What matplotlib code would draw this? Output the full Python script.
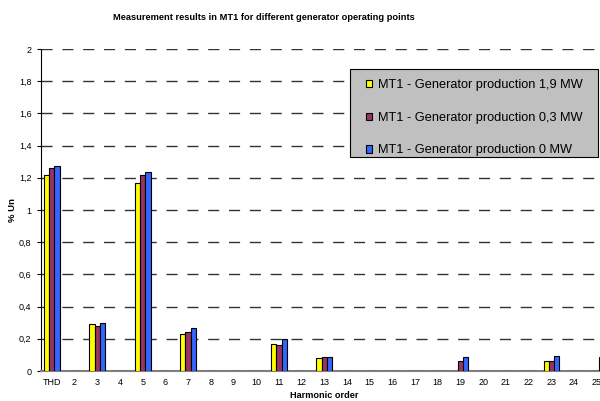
import numpy as np
import matplotlib.pyplot as plt
from matplotlib.patches import Rectangle

plt.rcParams['font.family'] = ['Liberation Sans', 'DejaVu Sans']

harmonics = ['THD'] + [str(h) for h in range(2, 26)]
labels = ['MT1 - Generator production 1,9 MW',
          'MT1 - Generator production 0,3 MW',
          'MT1 - Generator production 0 MW']

# % Un per harmonic (THD, 2..25)
p_1_9 = [1.22, 0, 0.29, 0, 1.17, 0, 0.23, 0, 0, 0, 0.17, 0, 0.08, 0, 0, 0, 0, 0, 0, 0, 0, 0, 0.06, 0, 0]
p_0_3 = [1.26, 0, 0.28, 0, 1.22, 0, 0.24, 0, 0, 0, 0.16, 0, 0.085, 0, 0, 0, 0, 0, 0.06, 0, 0, 0, 0.06, 0, 0]
p_0 = [1.275, 0, 0.30, 0, 1.235, 0, 0.27, 0, 0, 0, 0.20, 0, 0.085, 0, 0, 0, 0, 0, 0.085, 0, 0, 0, 0.095, 0, 0.085]
colors = ['#FFFF00', '#993366', '#3366FF']

fig = plt.figure(figsize=(6, 4.01), dpi=100)
ax = fig.add_axes([0.0675, 0.0748, 0.946, 0.803])

x = np.arange(len(harmonics))
w = 0.23
for i, (vals, c, lab) in enumerate(zip([p_1_9, p_0_3, p_0], colors, labels)):
    ax.bar(x + (i - 1) * w, vals, w, color=c, edgecolor='black', linewidth=0.8,
           label=lab, zorder=3)

ax.set_xlim(-0.5, len(harmonics) - 0.5)
ax.set_ylim(0, 2)
yt = np.arange(0, 2.01, 0.2)
ax.set_yticks(yt)
ax.set_yticklabels(['0' if v == 0 else ('%g' % round(v, 1)).replace('.', ',') for v in yt])
ax.set_xticks(x)
ax.set_xticklabels(harmonics)
ax.tick_params(axis='x', length=0, labelsize=6.5, pad=5)
ax.tick_params(axis='y', length=3, labelsize=6.5, direction='out')

for v in yt[1:]:
    ax.axhline(v, color='#333333', linewidth=1, linestyle=(0, (8, 7)), zorder=1)

ax.spines['top'].set_visible(False)
ax.spines['right'].set_visible(False)
ax.spines['left'].set_color('black')
ax.spines['bottom'].set_color('#808080')
ax.spines['bottom'].set_linewidth(1.5)

ax.set_xlabel('Harmonic order', fontsize=6.6, fontweight='bold', labelpad=3)
ax.set_ylabel('% Un', fontsize=6.8, fontweight='bold')
ax.yaxis.set_label_coords(-0.041, 0.5)
fig.text(264 / 600, 1 - 17 / 401,
         'Measurement results in MT1 for different generator operating points',
         fontsize=6.7, fontweight='bold', ha='center', va='center')

# legend box
fig.patches.append(Rectangle((350 / 600, 1 - 157 / 401), 248 / 600, 88 / 401,
                             transform=fig.transFigure, facecolor='#c0c0c0',
                             edgecolor='black', linewidth=0.8, zorder=4))
leg = fig.legend(loc='upper left', bbox_to_anchor=(366 / 600, 1 - 79 / 401),
                 fontsize=9.2, handlelength=0.5, handleheight=0.5, handletextpad=0.4,
                 labelspacing=1.62, borderpad=0, borderaxespad=0, frameon=False)
leg.set_zorder(5)

fig.savefig('out.png', dpi=100)
